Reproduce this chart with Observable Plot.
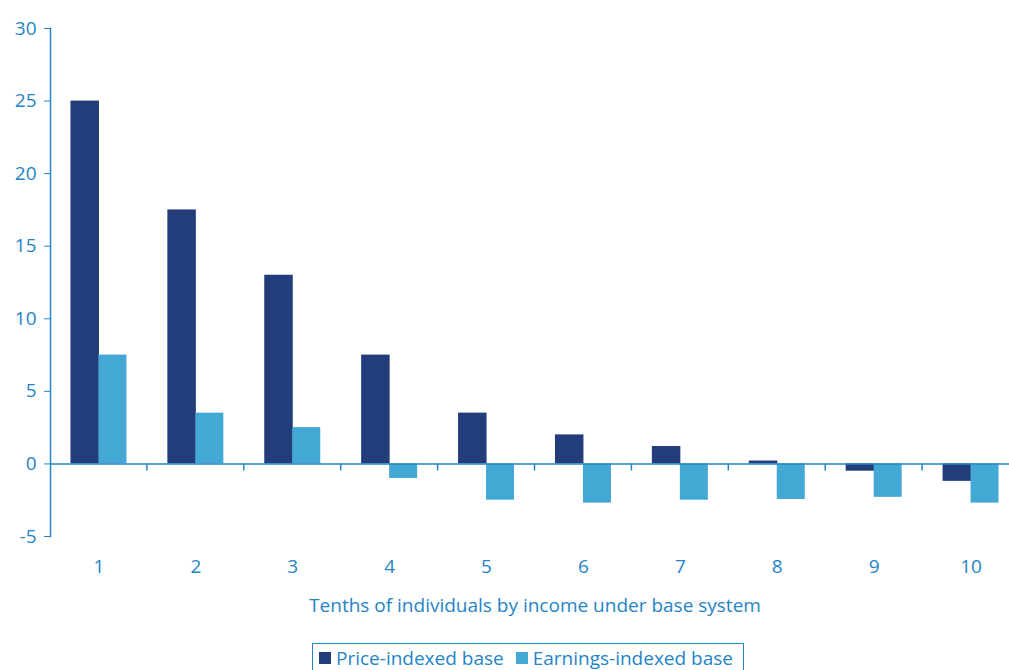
<!DOCTYPE html>
<html>
<head>
<meta charset="utf-8">
<script src="https://cdn.jsdelivr.net/npm/d3@7"></script>
<script src="https://cdn.jsdelivr.net/npm/@observablehq/plot@0.6"></script>
<style>
  html, body { margin: 0; padding: 0; background: #fff; overflow: hidden; }
  body { font-family: "Open Sans", sans-serif; }
  #legend {
    position: absolute; left: 312px; top: 643px; width: 432px; height: 30px;
    border: 1px solid #2584c6; box-sizing: border-box;
    display: flex; align-items: center; padding-left: 6px;
    font-size: 19px; color: #2584c6; white-space: nowrap;
  }
  #legend .sw { display: inline-block; width: 12px; height: 12px; margin-right: 5px; }
  #legend .item { display: inline-flex; align-items: center; margin-right: 12px; }
</style>
</head>
<body>
<div id="chart"></div>
<div id="legend"></div>
<script>
const categories = ["1","2","3","4","5","6","7","8","9","10"];
const priceIndexed = [25, 17.5, 13, 7.5, 3.5, 2, 1.2, 0.2, -0.5, -1.2];
const earningsIndexed = [7.5, 3.5, 2.5, -1, -2.5, -2.7, -2.5, -2.45, -2.3, -2.7];
const seriesNames = ["Price-indexed base", "Earnings-indexed base"];
const seriesColors = ["#223d7a", "#43a8d3"];
const yTicks = [-5, 0, 5, 10, 15, 20, 25, 30];
const xTitle = "Tenths of individuals by income under base system";

const axisColor = "#2584c6";
const W = 1009, H = 640;
const mL = 50, mR = -10, mT = 28, mB = 104;
const bw = (W - mL - mR) / categories.length;
const barW = 28, pad = (bw - 2 * barW) / 2;

const price = categories.map((c, i) => ({cat: c, v: priceIndexed[i]}));
const earn = categories.map((c, i) => ({cat: c, v: earningsIndexed[i]}));

const boundaryTicks = (index, scales) => {
  const g = d3.create("svg:g");
  categories.slice(1).forEach(c => {
    const x = scales.x(c);
    const y0 = scales.y(0);
    g.append("line").attr("x1", x).attr("x2", x).attr("y1", y0).attr("y2", y0 + 7)
      .attr("stroke", axisColor).attr("stroke-width", 1.5);
  });
  return g.node();
};

const plot = Plot.plot({
  width: W, height: H,
  marginLeft: mL, marginRight: mR, marginTop: mT, marginBottom: mB,
  style: {fontFamily: "Open Sans, sans-serif", background: "transparent", overflow: "visible"},
  x: {domain: categories, padding: 0, round: false},
  y: {domain: [-5, 30]},
  marks: [
    Plot.barY(price, {x: "cat", y: "v", fill: seriesColors[0], insetLeft: pad, insetRight: pad + barW - 0.5}),
    Plot.barY(earn, {x: "cat", y: "v", fill: seriesColors[1], insetLeft: pad + barW, insetRight: pad}),
    Plot.ruleY([0], {stroke: axisColor, strokeWidth: 1.5}),
    Plot.frame({anchor: "left", stroke: axisColor, strokeWidth: 1.5}),
    boundaryTicks,
    Plot.axisY({ticks: yTicks, tickSize: 6, tickPadding: 8, stroke: axisColor, fill: axisColor, fontSize: 19, label: null, tickFormat: d => String(d)}),
    Plot.axisX({tickSize: 0, tickPadding: 23, fill: axisColor, fontSize: 19, label: null}),
    Plot.text([xTitle], {frameAnchor: "bottom", dy: 69, text: d => d, fill: axisColor, fontSize: 19, lineAnchor: "middle"})
  ]
});
document.getElementById("chart").appendChild(plot);

const legend = document.getElementById("legend");
seriesNames.forEach((n, i) => {
  const item = document.createElement("span");
  item.className = "item";
  const sw = document.createElement("span");
  sw.className = "sw";
  sw.style.background = seriesColors[i];
  item.appendChild(sw);
  item.appendChild(document.createTextNode(n));
  legend.appendChild(item);
});
</script>
</body>
</html>
